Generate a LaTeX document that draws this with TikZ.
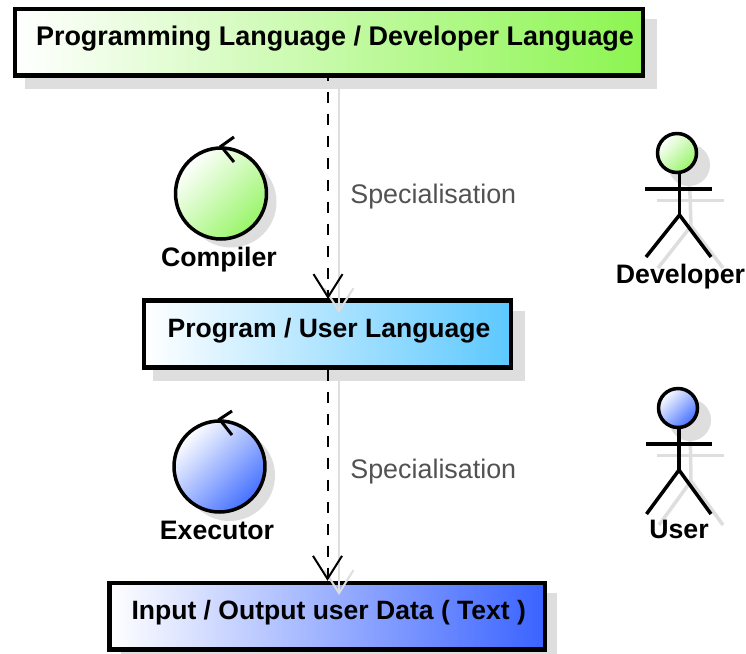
\documentclass[tikz,border=0pt]{standalone}
\usepackage{fontspec}
\setmainfont{Liberation Sans}
\usetikzlibrary{arrows.meta}
\definecolor{shadowgray}{HTML}{DEDEDE}
\definecolor{devgreen}{HTML}{8CF550}
\definecolor{circgreen}{HTML}{98F568}
\definecolor{userblue}{HTML}{5CC8FF}
\definecolor{datablue}{HTML}{3A63FF}
\definecolor{circblue}{HTML}{4470FF}
\tikzset{
  lang/.style={draw=black,line width=.09cm,rectangle,inner sep=0pt,text height=.42cm,text depth=.30cm,
    font=\bfseries\fontsize{15.1}{18}\selectfont},
  langshadow/.style={fill=shadowgray,rectangle,inner sep=0pt},
  tool/.style={draw=black,line width=.07cm,circle,inner sep=0pt,minimum size=1.82cm},
  toolshadow/.style={fill=shadowgray,circle,inner sep=0pt,minimum size=1.82cm},
  head/.style={draw=black,line width=.07cm,circle,inner sep=0pt,minimum size=.78cm},
  headshadow/.style={fill=shadowgray,circle,inner sep=0pt,minimum size=.84cm},
  greenfill/.style={top color=white,bottom color=circgreen,shading angle=45},
  bluefill/.style={top color=white,bottom color=circblue,shading angle=45},
  iconlabel/.style={anchor=base,inner sep=0pt,font=\bfseries\fontsize{15.2}{18}\selectfont},
  spec/.style={anchor=base west,inner sep=0pt,text=black!68,font=\fontsize{15.3}{18}\selectfont},
  dep/.style={dash pattern=on .23cm off .21cm,line width=.04cm,
    -{Straight Barb[length=.46cm,width=.58cm,line width=.04cm]}},
  depshadow/.style={draw=shadowgray,line width=.05cm,
    -{Straight Barb[length=.46cm,width=.58cm,line width=.04cm]}},
  stick/.style={line width=.07cm},
  stickshadow/.style={draw=shadowgray,line width=.07cm},
}
\begin{document}
\begin{tikzpicture}[x=.02cm,y=-.02cm]
\useasboundingbox (0,0) rectangle (746,653);
% shadows first
\node[langshadow,minimum width=12.64cm,minimum height=1.4cm] at (341,54) (devshadow) {};
\node[langshadow,minimum width=7.44cm,minimum height=1.4cm] at (339,346) (progshadow) {};
\node[langshadow,minimum width=8.71cm,minimum height=1.4cm] at (339,628) (datashadow) {};
\node[toolshadow] at (231,202) (compshadow) {};
\node[toolshadow] at (229.5,475.5) (execshadow) {};
\node[headshadow] at (689,165) (devheadshadow) {};
\node[headshadow] at (690,420) (userheadshadow) {};
% actor shadows
\coordinate (devhip2) at (691,226);
\coordinate (userhip2) at (691,481);
\draw[stickshadow] (devheadshadow) -- (devhip2);
\draw[stickshadow] (657,200.5) -- (724,200.5);
\draw[stickshadow] (658,268) -- (devhip2) -- (723,268);
\draw[stickshadow] (userheadshadow) -- (userhip2);
\draw[stickshadow] (657,455.5) -- (724,455.5);
\draw[stickshadow] (659,525) -- (userhip2) -- (723,525);
% boxes
\node[lang,left color=white,right color=devgreen,minimum width=12.56cm,minimum height=1.33cm] at (329,42.25) (devlang)
  {\hspace*{.24cm}\fontsize{15.35}{18}\selectfont Programming Language / Developer Language};
\node[lang,left color=white,right color=userblue,minimum width=7.34cm,minimum height=1.34cm] at (327.5,334) (proglang)
  {\hspace*{.06cm}Program / User Language};
\node[lang,left color=white,right color=datablue,minimum width=8.71cm,minimum height=1.33cm] at (327.25,616.25) (data)
  {\hspace*{.06cm}Input / Output user Data ( Text )};
% connectors
\coordinate (progtip2) at (339,313);
\coordinate (datatip2) at (339,595);
\coordinate (progtip) at (328,299);
\draw[depshadow] (devshadow.south -| progtip2) -- (progtip2);
\draw[depshadow] (progshadow.south -| datatip2) -- (datatip2);
\draw[dep,dash phase=.16cm] (devlang.south -| progtip) -- (progtip);
\draw[dep] (proglang.south) -- (data.north -| proglang.south);
% controls
\node[tool,greenfill] at (221,193.5) (compiler) {};
\node[tool,bluefill] at (219.5,466.5) (executor) {};
\draw[stick,line width=.06cm] (234,137) -- (compiler.north) -- (234,162);
\draw[stick,line width=.06cm] (232,411) -- (executor.north) -- (232,435);
\node[iconlabel] at (219,266) (compilerlabel) {Compiler};
\node[iconlabel] at (217,539) (executorlabel) {Executor};
% actors
\node[head,greenfill] at (677,153) (devhead) {};
\node[head,bluefill] at (678,408) (userhead) {};
\coordinate (devhip) at (679.5,215);
\coordinate (userhip) at (679,470);
\draw[stick] (devhead.south -| devhip) -- (devhip);
\draw[stick] (645,189) -- (712,189);
\draw[stick] (646,257) -- (devhip) -- (711,257);
\draw[stick] (userhead.south -| userhip) -- (userhip);
\draw[stick] (645.5,444) -- (712,444);
\draw[stick] (646.5,514) -- (userhip) -- (711,514);
\node[iconlabel] at (680.5,283) (devlabel) {Developer};
\node[iconlabel] at (679,538) (userlabel) {User};
% labels
\node[spec] at (350,203) (spectop) {Specialisation};
\node[spec] at (350,478) (specbottom) {Specialisation};
\end{tikzpicture}
\end{document}
